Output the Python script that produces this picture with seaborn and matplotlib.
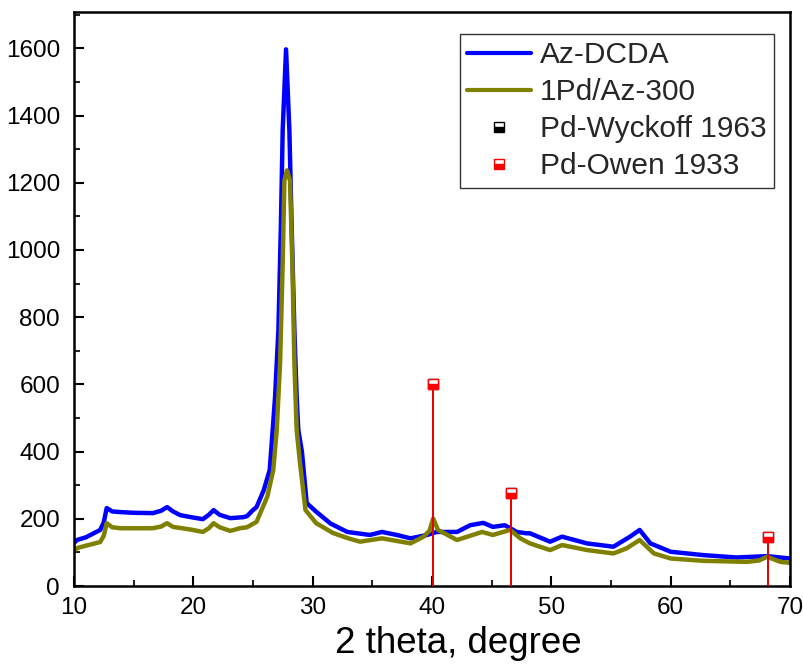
import matplotlib
matplotlib.use("Agg")
import matplotlib.pyplot as plt
from matplotlib.lines import Line2D
from matplotlib.ticker import MultipleLocator
import seaborn as sns
import pandas as pd

# ---- data ----
az_x = [10.0, 10.25, 11.0, 12.2, 12.5, 12.74, 13.2, 13.9, 15.0, 16.6, 17.3, 17.8, 18.3, 18.9, 19.8,
        20.8, 21.3, 21.7, 22.2, 23.1, 24.2, 24.5, 25.0, 25.3, 25.9, 26.4, 26.65, 26.85, 27.13,
        27.33, 27.49, 27.77, 28.05, 28.25, 28.47, 28.66, 28.8, 29.1, 29.5, 30.3, 31.5, 32.9,
        34.8, 35.8, 37.05, 38.2, 39.6, 40.4, 42.1, 43.2, 44.3, 45.1, 46.1, 47.1, 47.9, 48.2,
        49.9, 50.9, 52.97, 55.2, 56.6, 57.4, 58.3, 60.0, 62.75, 65.5, 68.07, 70.0]
az_y = [128, 137, 145, 167, 190, 232, 222, 220, 218, 217, 224, 235, 222, 211, 205,
        199, 212, 226, 212, 202, 205, 208, 226, 235, 285, 345, 464, 563, 761,
        1059, 1356, 1597, 1356, 1059, 761, 563, 464, 400, 247, 221, 186, 161,
        152, 161, 152, 142, 152, 161, 161, 181, 188, 176, 181, 161, 157, 157,
        132, 147, 127, 117, 147, 167, 127, 102, 92, 85, 89, 82]

pd_x = [10.0, 10.25, 11.0, 12.2, 12.5, 12.74, 13.2, 13.9, 15.0, 16.6, 17.3, 17.8, 18.3, 19.8,
        20.8, 21.3, 21.7, 22.2, 23.1, 23.9, 24.5, 25.3, 26.2, 26.7, 26.99, 27.27, 27.49, 27.63,
        27.85, 28.1, 28.3, 28.47, 28.66, 28.94, 29.4, 30.3, 31.7, 32.9, 33.97, 35.8, 38.2,
        39.3, 39.8, 40.1, 40.5, 42.1, 44.2, 45.1, 46.55, 47.4, 48.2, 49.9, 50.9, 53.0, 55.2,
        56.3, 57.4, 58.6, 60.0, 62.75, 66.4, 67.4, 68.07, 69.2, 70.0]
pd_y = [105, 113, 120, 131, 150, 187, 175, 172, 172, 172, 177, 187, 176, 168,
        161, 172, 187, 175, 164, 172, 175, 191, 266, 345, 464, 663, 960, 1207,
        1237, 1207, 960, 663, 464, 366, 226, 187, 158, 143, 132, 142, 127,
        147, 165, 201, 167, 137, 161, 152, 167, 142, 127, 107, 122, 107, 97,
        112, 137, 97, 82, 75, 72, 76, 87, 72, 69]

wyckoff_x = [40.12, 46.66, 68.12]
wyckoff_y = [600, 277, 145]
owen_x = [40.12, 46.66, 68.12]
owen_y = [600, 277, 145]

# ---- plotting ----
sns.set_style("white")
plt.rcParams["font.family"] = ["Liberation Sans", "DejaVu Sans"]

fig = plt.figure(figsize=(8.04, 6.69), dpi=100)
ax = fig.add_axes([0.092, 0.124, 0.8906, 0.858])

df_az = pd.DataFrame({"x": az_x, "y": az_y})
df_pd = pd.DataFrame({"x": pd_x, "y": pd_y})
sns.lineplot(data=df_az, x="x", y="y", color="#0000FF", lw=3.2, estimator=None, sort=False, ax=ax)
sns.lineplot(data=df_pd, x="x", y="y", color="#808000", lw=3.2, estimator=None, sort=False, ax=ax)

# reference stick patterns
ax.vlines(wyckoff_x, 0, wyckoff_y, color="black", lw=1.3, zorder=3)
ax.plot(wyckoff_x, wyckoff_y, ls="none", marker="s", ms=7, mec="black", mfc="black",
        fillstyle="bottom", markerfacecoloralt="white", zorder=4)
ax.vlines(owen_x, 0, owen_y, color="#FF0000", lw=1.3, zorder=5)
ax.plot(owen_x, owen_y, ls="none", marker="s", ms=7, mec="#FF0000", mfc="#FF0000",
        fillstyle="bottom", markerfacecoloralt="white", zorder=6)

ax.set_xlim(10, 70)
ax.set_ylim(0, 1708)
ax.xaxis.set_major_locator(MultipleLocator(10))
ax.xaxis.set_minor_locator(MultipleLocator(5))
ax.yaxis.set_major_locator(MultipleLocator(200))
ax.yaxis.set_minor_locator(MultipleLocator(100))
ax.tick_params(axis="both", which="major", direction="in", length=7, width=1.5,
               labelsize=17.5, colors="black", bottom=True, left=True, top=False, right=False)
ax.tick_params(axis="x", which="major", pad=8)
ax.tick_params(axis="y", which="major", pad=10)
ax.tick_params(axis="both", which="minor", direction="in", length=4, width=1.5,
               bottom=True, left=True, top=False, right=False)
for s in ax.spines.values():
    s.set_color("black")
    s.set_linewidth(1.8)

ax.set_xlabel("2 theta, degree", fontsize=26.5, color="black")
ax.xaxis.set_label_coords(0.537, -0.07)
ax.set_ylabel("")

handles = [
    Line2D([], [], color="#0000FF", lw=3),
    Line2D([], [], color="#808000", lw=3),
    Line2D([], [], ls="none", marker="s", ms=7, mec="black", mfc="black",
           fillstyle="bottom", markerfacecoloralt="white"),
    Line2D([], [], ls="none", marker="s", ms=7, mec="#FF0000", mfc="#FF0000",
           fillstyle="bottom", markerfacecoloralt="white"),
]
labels = ["Az-DCDA", "1Pd/Az-300", "Pd-Wyckoff 1963", "Pd-Owen 1933"]
leg = ax.legend(handles, labels, loc="upper right", bbox_to_anchor=(0.978, 0.962),
                fontsize=21.5, frameon=True, fancybox=False, edgecolor="black",
                handlelength=2.15, handletextpad=0.3, labelspacing=0.3, borderpad=0.25,
                borderaxespad=0.0)
leg.get_frame().set_linewidth(1.0)

fig.savefig("out.png", dpi=100)
